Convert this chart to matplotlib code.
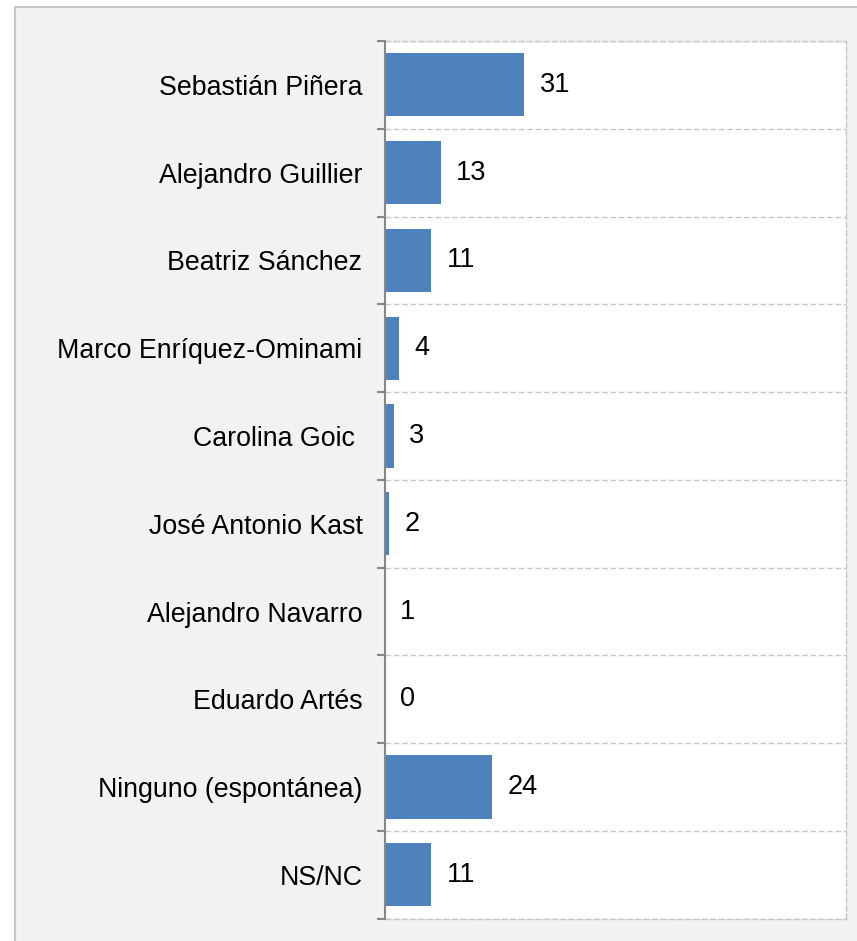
import numpy as np
import matplotlib.pyplot as plt
from matplotlib.patches import Rectangle

# Candidates and their reported percentages
candidates = ['Sebastián Piñera', 'Alejandro Guillier', 'Beatriz Sánchez',
              'Marco Enríquez-Ominami', 'Carolina Goic ', 'José Antonio Kast',
              'Alejandro Navarro', 'Eduardo Artés', 'Ninguno (espontánea)', 'NS/NC']
values = [31, 13, 11, 4, 3, 2, 1, 0, 24, 11]

# axis of the original starts at 1, not 0
x_min, x_max = 1, 100

bar_color = '#4f81bd'
grid_color = '#c6c6c6'
axis_color = '#868686'

plt.rcParams['font.family'] = ['Liberation Sans', 'DejaVu Sans']

fig = plt.figure(figsize=(8.57, 9.41), dpi=100, facecolor='white')

# gray chart area with a border on top and left (cropped at right/bottom)
fig.patches.append(Rectangle((15 / 857, -0.1), 1.2, (941 - 7) / 941 + 0.1,
                             transform=fig.transFigure, facecolor='#f2f2f2',
                             edgecolor='#c8c8c8', linewidth=1.5, zorder=-1))

ax = fig.add_axes([384.7 / 857, 1 - 918.7 / 941, (846 - 384.7) / 857, (918.7 - 41) / 941])
ax.set_facecolor('white')
ax.set_zorder(1)

y = np.arange(len(candidates))
ax.barh(y, values, height=0.72, color=bar_color, zorder=2)

ax.set_xlim(x_min, x_max)
ax.set_ylim(len(candidates) - 0.5, -0.5)

# value labels
for yi, v in zip(y, values):
    ax.annotate(str(v), xy=(max(v, x_min), yi), xytext=(11, 0),
                textcoords='offset points', va='center', ha='left', fontsize=19.5)

# category labels at centers, tick marks on boundaries
ax.set_yticks(y)
ax.set_yticklabels(candidates, fontsize=19.3)
ax.tick_params(axis='y', which='major', length=0, pad=16)
ax.set_yticks(np.arange(-0.5, len(candidates)), minor=True)
ax.tick_params(axis='y', which='minor', length=6, width=1.5, color=axis_color)
ax.set_xticks([])

ax.grid(axis='y', which='minor', linestyle=(0, (4, 2)), color=grid_color, linewidth=1, zorder=1)

ax.spines['left'].set_color(axis_color)
ax.spines['left'].set_linewidth(1.5)
ax.spines['left'].set_zorder(3)
for side in ['top', 'right', 'bottom']:
    ax.spines[side].set_color(grid_color)
    ax.spines[side].set_linestyle((0, (4, 2)))
    ax.spines[side].set_linewidth(1)

fig.savefig('out.png', dpi=100)
